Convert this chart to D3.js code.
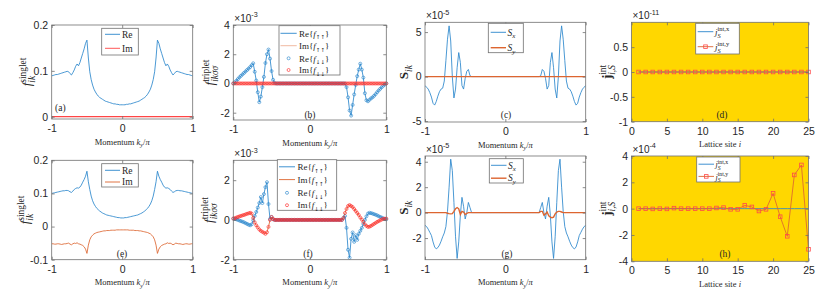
<!DOCTYPE html>
<html>
<head>
<meta charset="utf-8">
<script src="https://cdn.jsdelivr.net/npm/d3@7"></script>
<style>
  body { margin: 0; background: #fff; }
  svg { display: block; }
</style>
</head>
<body>
<svg id="fig" width="830" height="294"></svg>
<script>
// momentum grid k_y/pi and lattice sites
const kGrid = d3.range(101).map(i => Math.round((-1 + i * 0.02) * 100) / 100);
const sites = d3.range(1, 26);
const Z = n => Array(n).fill(0);

// (a) singlet, first case
const singletReA = [0.089,0.090,0.091,0.092,0.092,0.093,0.094,0.095,0.096,0.097,
  0.098,0.099,0.098,0.094,0.091,0.096,0.102,0.110,0.115,0.111,
  0.118,0.128,0.138,0.148,0.160,0.167,0.128,0.098,0.081,0.069,
  0.060,0.054,0.049,0.045,0.042,0.040,0.038,0.036,0.034,0.033,
  0.032,0.031,0.030,0.029,0.028,0.028,0.027,0.027,0.026,0.026,0.026,
  0.026,0.026,0.027,0.027,0.028,0.028,0.029,0.030,0.031,0.032,
  0.033,0.034,0.036,0.038,0.040,0.042,0.045,0.049,0.054,0.060,
  0.069,0.081,0.098,0.128,0.167,0.160,0.148,0.138,0.128,0.118,
  0.111,0.115,0.110,0.102,0.096,0.091,0.094,0.098,0.099,0.098,
  0.097,0.096,0.095,0.094,0.093,0.092,0.092,0.091,0.090,0.089];
const singletImA = Z(101);

// (e) singlet, second case
const singletReE = [0.100,0.101,0.102,0.103,0.104,0.105,0.106,0.107,0.108,0.108,
  0.109,0.109,0.108,0.105,0.103,0.107,0.112,0.115,0.117,0.116,
  0.119,0.125,0.134,0.142,0.152,0.167,0.135,0.112,0.092,0.078,
  0.068,0.061,0.055,0.051,0.047,0.044,0.041,0.039,0.037,0.035,
  0.034,0.033,0.032,0.031,0.030,0.029,0.028,0.027,0.027,0.026,0.026,
  0.026,0.027,0.027,0.028,0.029,0.030,0.031,0.032,0.033,0.034,
  0.035,0.037,0.039,0.041,0.044,0.047,0.051,0.055,0.061,0.068,
  0.078,0.092,0.112,0.135,0.167,0.152,0.142,0.134,0.125,0.119,
  0.116,0.117,0.115,0.112,0.107,0.103,0.105,0.108,0.109,0.109,
  0.108,0.108,0.107,0.106,0.105,0.104,0.103,0.102,0.101,0.100];
const singletImE = [-0.052,-0.052,-0.053,-0.053,-0.052,-0.052,-0.053,-0.054,-0.053,-0.052,
  -0.052,-0.051,-0.050,-0.053,-0.055,-0.052,-0.050,-0.051,-0.049,-0.052,
  -0.053,-0.055,-0.057,-0.061,-0.068,-0.081,-0.056,-0.040,-0.031,-0.026,
  -0.022,-0.020,-0.018,-0.017,-0.016,-0.015,-0.014,-0.013,-0.013,-0.012,
  -0.012,-0.012,-0.011,-0.011,-0.011,-0.011,-0.010,-0.010,-0.010,-0.010,-0.010,
  -0.010,-0.010,-0.010,-0.010,-0.011,-0.011,-0.011,-0.011,-0.012,-0.012,
  -0.012,-0.013,-0.013,-0.014,-0.015,-0.016,-0.017,-0.018,-0.020,-0.022,
  -0.026,-0.031,-0.040,-0.056,-0.081,-0.068,-0.061,-0.057,-0.055,-0.053,
  -0.052,-0.049,-0.051,-0.050,-0.052,-0.055,-0.053,-0.050,-0.051,-0.052,
  -0.052,-0.053,-0.054,-0.053,-0.052,-0.052,-0.053,-0.053,-0.052,-0.052];

// (b) triplet, first case (x 1e-3)
const tripletReB = [0.00,0.08,0.18,0.30,0.42,0.52,0.62,0.72,0.82,0.92,
  1.02,1.12,1.25,1.38,0.80,0.20,-0.60,-1.28,-0.90,-0.25,
  0.45,1.40,2.00,2.32,1.70,0.85,0.25,0.03,0,0,
  ...Z(40),
  0,0,0,0,-0.25,-0.95,-1.85,-2.20,-1.47,-0.75,
  -0.10,0.50,0.95,1.35,0.95,0.40,-0.67,-1.15,-1.22,-1.12,
  -1.02,-0.95,-0.85,-0.73,-0.60,-0.48,-0.37,-0.26,-0.16,-0.07,0.00];
const tripletImB = Z(101);

// (f) triplet, second case (x 1e-3)
const tripletReF = [0.07,0.05,0.03,0.00,-0.03,-0.06,-0.09,-0.12,-0.16,-0.20,
  -0.24,-0.27,-0.22,-0.02,0.20,0.40,0.62,0.85,1.15,0.85,
  1.30,1.65,1.90,0.80,0.05,0.15,0.03,0,0,0,
  ...Z(40),
  0,0,0.10,0.20,-0.40,-1.50,-1.90,-0.95,-0.63,-1.10,
  -0.77,-1.00,-0.70,-0.55,-0.40,-0.20,0.00,0.18,0.32,0.36,
  0.34,0.32,0.29,0.26,0.23,0.19,0.15,0.12,0.08,0.05,0.03];
const tripletImF = [0.07,0.09,0.12,0.15,0.18,0.20,0.23,0.25,0.28,0.31,
  0.33,0.36,0.32,0.10,-0.12,-0.27,-0.38,-0.48,-0.55,-0.60,
  -0.64,-0.70,-0.62,-0.35,0.00,0.15,0.05,0,0,0,
  ...Z(40),
  0,0,0.10,0.35,0.55,0.70,0.75,0.70,0.65,0.55,
  0.45,0.35,0.25,0.12,0.02,-0.10,-0.22,-0.30,-0.35,-0.34,
  -0.30,-0.25,-0.20,-0.15,-0.10,-0.06,-0.02,0.02,0.05,0.06,0.07];

// (c) spin, first case (x 1e-5)
const spinXC = [-1.0,-1.2,-1.4,-1.8,-2.3,-3.0,-3.2,-2.8,-2.2,-1.7,
  -1.4,-1.3,-0.5,1.8,4.2,5.7,4.0,0.0,-2.4,-1.4,
  1.0,2.7,1.6,-1.0,-1.4,-0.2,0.6,0.8,0.1,0.0,
  ...Z(41),
  0.0,0.1,0.8,0.6,-0.2,-1.4,-1.0,1.6,2.7,1.0,
  -1.4,-2.4,0.0,4.0,5.7,4.2,1.8,-0.5,-1.3,-1.4,
  -1.7,-2.2,-2.8,-3.2,-3.0,-2.3,-1.8,-1.4,-1.2,-1.0];
const spinYC = Z(101);

// (g) spin, second case (x 1e-5)
const spinXG = [-1.0,-1.1,-1.3,-1.55,-1.8,-2.3,-2.7,-2.85,-2.75,-2.55,
  -2.25,-1.9,-1.6,-1.1,0.1,2.0,4.2,3.3,0.8,-1.9,
  -3.6,-2.3,-0.2,1.2,0.5,-0.5,0.0,0.8,0.4,0.0,
  ...Z(41),
  0.0,0.4,0.8,0.0,-0.5,0.5,1.2,-0.2,-2.3,-3.6,
  -1.9,0.8,3.3,4.2,2.0,0.1,-1.1,-1.6,-1.9,-2.25,
  -2.55,-2.75,-2.85,-2.7,-2.3,-1.8,-1.55,-1.3,-1.1,-1.0];
const spinYG = [...Z(10),
  0,0,0,0,-0.05,-0.08,-0.10,-0.08,0.10,0.30,
  0.40,0.30,-0.15,0.10,0.05,-0.15,-0.05,0,0,0,
  ...Z(40),
  0,0,0.10,0.10,-0.20,-0.10,0.05,-0.25,-0.35,-0.40,
  -0.35,-0.10,0.05,0.10,0.10,0.05,0,0,0,0,
  ...Z(11)];

// (d),(h) interface spin currents
const currentXD = Z(25);
const currentYD = Z(25);            // x 1e-11
const currentXH = Z(25);
const currentYH = [0,0,-0.02,0,-0.02,0.04,0,0,0,0,0,0.05,0.08,-0.05,-0.05,
  0.25,0.13,-0.18,-0.05,1.16,-0.61,-2.10,2.56,3.32,-3.09];   // x 1e-4

const SANS = "'Liberation Sans', Arial, sans-serif";
const SERIF = "'Liberation Serif', 'DejaVu Serif', serif";
const ARROWS = "'DejaVu Sans', sans-serif";
const BLUE = '#2a86cc', ORANGE = '#DD6530', RED = '#FF2828', SQ = '#FF4A4A', INK = '#262626', AX = '#707070';

const svg = d3.select('#fig');

// text with sub/superscripts, measured piece by piece
function rich(parent, segs, fs, fam) {
  const g = parent.append('g');
  let cx = 0, stackX = 0;
  segs.forEach(s => {
    const small = s.v === 'sup' || s.v === 'sub';
    const size = fs * (small ? 0.72 : 1) * (s.scale || 1);
    const dy = s.v === 'sup' ? -0.42 * fs : s.v === 'sub' ? 0.3 * fs : 0;
    const sx = s.stack ? stackX : cx;
    const t = g.append('text')
      .attr('x', sx).attr('y', dy)
      .attr('fill', INK)
      .style('font-family', s.fam || fam)
      .style('font-size', size + 'px')
      .style('font-style', s.i ? 'italic' : 'normal')
      .style('font-weight', s.b ? 'bold' : 'normal')
      .style('white-space', 'pre')
      .text(s.t);
    const w = t.node().getComputedTextLength();
    if (s.stack) cx = Math.max(cx, sx + w);
    else { stackX = cx; cx += w; }
  });
  g.node().__w = cx;
  return g;
}
function place(g, x, y, anchor, rot) {
  const w = g.node().__w;
  const off = anchor === 'middle' ? -w / 2 : anchor === 'end' ? -w : 0;
  g.attr('transform', rot ? `translate(${x},${y}) rotate(-90) translate(${off},0)` : `translate(${x + off},${y})`);
}

function marker(g, type, cx, cy, color) {
  if (type === 'circle')
    g.append('circle').attr('cx', cx).attr('cy', cy).attr('r', 1.5)
      .attr('fill', 'none').attr('stroke', color).attr('stroke-width', 0.65);
  else
    g.append('rect').attr('x', cx - 1.8).attr('y', cy - 1.8).attr('width', 3.6).attr('height', 3.6)
      .attr('fill', 'none').attr('stroke', color).attr('stroke-width', 0.8);
}

const xLabelK = [{t: 'Momentum '}, {t: 'k', i: true}, {t: 'y', v: 'sub', i: true}, {t: '/'}, {t: 'π', i: true}];
const xLabelSite = [{t: 'Lattice site '}, {t: 'i', i: true}];
const ySinglet = [{t: 'f', i: true}, {t: 'singlet', v: 'sup'}, {t: 'ik', v: 'sub', i: true, stack: true}];
const yTriplet = [{t: 'f', i: true}, {t: 'triplet', v: 'sup'}, {t: 'ikσσ', v: 'sub', i: true, stack: true}];
const ySpin = [{t: 'S', b: true}, {t: 'ik', v: 'sub', i: true}];
const yCurrent = [{t: 'j', b: true}, {t: 'int', v: 'sup'}, {t: 'i,S', v: 'sub', i: true, stack: true}];
const fLab = (p, arr) => [{t: p + '{'}, {t: 'f', i: true}, {t: arr, v: 'sub', fam: ARROWS, scale: 0.85}, {t: '}'}];
const jLab = c => [{t: 'j', i: true}, {t: 'int,' + c, v: 'sup'}, {t: 'S', v: 'sub', i: true, stack: true}];

function panel(p) {
  const g = svg.append('g');
  const x = d3.scaleLinear().domain(p.xDomain).range([p.L, p.R]);
  const y = d3.scaleLinear().domain(p.yDomain).range([p.B, p.T]);
  if (p.bg) g.append('rect').attr('x', p.L).attr('y', p.T).attr('width', p.R - p.L).attr('height', p.B - p.T).attr('fill', p.bg);
  const cid = 'clip-' + p.id;
  g.append('clipPath').attr('id', cid).append('rect')
    .attr('x', p.L).attr('y', p.T).attr('width', p.R - p.L).attr('height', p.B - p.T);
  const plot = g.append('g').attr('clip-path', `url(#${cid})`);
  const free = g.append('g');
  p.series.forEach(s => {
    const pts = s.x.map((xv, i) => [xv, s.y[i]]);
    if (s.line) plot.append('path').datum(pts)
      .attr('d', d3.line().x(d => x(d[0])).y(d => y(d[1])))
      .attr('fill', 'none').attr('stroke', s.line).attr('stroke-width', s.lw || 0.85)
      .attr('stroke-opacity', s.op || 1);
    if (s.marker) pts.forEach(d => marker(free, s.marker, x(d[0]), y(d[1]), s.mcolor));
  });

  const T = 3, fmt = d => String(d);
  const axis = (gen, tx, ty, labels) => {
    const a = g.append('g').attr('transform', `translate(${tx},${ty})`).call(gen);
    a.select('.domain').remove();
    a.selectAll('line').attr('stroke', AX).attr('stroke-width', 0.8);
    if (!labels) a.selectAll('text').remove();
    else a.selectAll('text').attr('fill', INK).style('font-family', SANS).style('font-size', '10.5px');
  };
  axis(d3.axisBottom(x).tickValues(p.xTicks).tickSize(-T).tickPadding(5.5).tickFormat(fmt), 0, p.B, true);
  axis(d3.axisTop(x).tickValues(p.xTicks).tickSize(-T), 0, p.T, false);
  axis(d3.axisLeft(y).tickValues(p.yTicks).tickSize(-T).tickPadding(3.5).tickFormat(fmt), p.L, 0, true);
  axis(d3.axisRight(y).tickValues(p.yTicks).tickSize(-T), p.R, 0, false);
  g.append('rect').attr('x', p.L).attr('y', p.T).attr('width', p.R - p.L).attr('height', p.B - p.T)
    .attr('fill', 'none').attr('stroke', AX).attr('stroke-width', 0.8);

  if (p.exp) place(rich(g, [{t: '×10'}, {t: p.exp, v: 'sup'}], 10, SANS), p.L + 1, p.T - 3.5, 'start');
  place(rich(g, p.xLabel, 8.5, SERIF), (p.L + p.R) / 2, p.B + 25.5, 'middle');
  place(rich(g, p.yLabel, 13, SERIF), p.yLabX, (p.T + p.B) / 2, 'middle', true);
  place(rich(g, [{t: '(' + p.id + ')'}], 9.5, SERIF), p.tag[0], p.tag[1], p.tag[2]);

  const lg = p.legend;
  g.append('rect').attr('x', lg.box[0]).attr('y', lg.box[1])
    .attr('width', lg.box[2] - lg.box[0]).attr('height', lg.box[3] - lg.box[1])
    .attr('fill', '#fff').attr('stroke', AX).attr('stroke-width', 0.8);
  lg.items.forEach((it, i) => {
    const cy = lg.rows[i];
    if (it.line) g.append('line').attr('x1', lg.sx[0]).attr('x2', lg.sx[1]).attr('y1', cy).attr('y2', cy)
      .attr('stroke', it.line).attr('stroke-width', it.lw || 0.9).attr('stroke-opacity', it.op || 1);
    if (it.marker) marker(g, it.marker, (lg.sx[0] + lg.sx[1]) / 2, cy, it.mcolor);
    place(rich(g, it.label, lg.fs || 9.5, SERIF), lg.tx, cy + 3.2, 'start');
  });
}

panel({id: 'a', L: 51.7, R: 192.7, T: 25, B: 119, xDomain: [-1, 1], yDomain: [-0.005, 0.2],
  xTicks: [-1, 0, 1], yTicks: [0, 0.1, 0.2], xLabel: xLabelK, yLabel: ySinglet, yLabX: 31,
  tag: [55, 111, 'start'],
  series: [{x: kGrid, y: singletReA, line: BLUE}, {x: kGrid, y: singletImA, line: '#FF4545', lw: 1.2}],
  legend: {box: [101.7, 28.3, 138.3, 55], sx: [105, 120], tx: 122, rows: [34.3, 48.3],
    items: [{line: BLUE, label: [{t: 'Re'}]}, {line: '#FF4545', label: [{t: 'Im'}]}]}});

panel({id: 'b', L: 233.3, R: 386.3, T: 25, B: 120, xDomain: [-1, 1], yDomain: [-2.5, 4],
  xTicks: [-1, 0, 1], yTicks: [-2, 0, 2, 4], xLabel: xLabelK, yLabel: yTriplet, yLabX: 214, exp: '-3',
  tag: [310, 117.5, 'middle'],
  series: [{x: kGrid, y: tripletReB, line: BLUE}, {x: kGrid, y: tripletImB, line: ORANGE, op: 0.5},
    {x: kGrid, y: tripletReB, marker: 'circle', mcolor: BLUE}, {x: kGrid, y: tripletImB, marker: 'circle', mcolor: RED}],
  legend: {box: [279, 25.7, 340, 75], sx: [280.5, 296.7], tx: 299, rows: [33.3, 45.7, 58.3, 70], fs: 9,
    items: [{line: BLUE, label: fLab('Re', '↑↑')}, {line: ORANGE, op: 0.5, label: fLab('Im', '↑↑')},
      {marker: 'circle', mcolor: BLUE, label: fLab('Re', '↓↓')}, {marker: 'circle', mcolor: RED, label: fLab('Im', '↓↓')}]}});

panel({id: 'c', L: 425, R: 585.7, T: 22.3, B: 122, xDomain: [-1, 1], yDomain: [-5.1, 6.1],
  xTicks: [-1, 0, 1], yTicks: [-5, 0, 5], xLabel: xLabelK, yLabel: ySpin, yLabX: 408, exp: '-5',
  tag: [506, 117.5, 'middle'],
  series: [{x: kGrid, y: spinXC, line: BLUE}, {x: kGrid, y: spinYC, line: ORANGE, lw: 1.4}],
  legend: {box: [488.3, 23.3, 523.3, 52.7], sx: [490.7, 506], tx: 507.5, rows: [32.3, 47.7],
    items: [{line: BLUE, label: [{t: 'S', i: true}, {t: 'x', v: 'sub', i: true}]},
      {line: ORANGE, lw: 1.4, label: [{t: 'S', i: true}, {t: 'y', v: 'sub', i: true}]}]}});

panel({id: 'd', L: 631.5, R: 808.5, T: 22.3, B: 121.7, xDomain: [0, 25], yDomain: [-1, 1],
  xTicks: [0, 5, 10, 15, 20, 25], yTicks: [-1, -0.5, 0, 0.5], xLabel: xLabelSite, yLabel: yCurrent, yLabX: 611,
  exp: '-11', bg: '#FFD700', tag: [722, 117.5, 'middle'],
  series: [{x: sites, y: currentXD, line: BLUE}, {x: sites, y: currentYD, line: ORANGE, marker: 'square', mcolor: SQ}],
  legend: {box: [695.7, 23.3, 739.3, 54], sx: [697.7, 713.3], tx: 715, rows: [31.7, 46.7], fs: 9,
    items: [{line: BLUE, label: jLab('x')}, {line: ORANGE, marker: 'square', mcolor: SQ, label: jLab('y')}]}});

panel({id: 'e', L: 51.7, R: 192.7, T: 160.3, B: 259.7, xDomain: [-1, 1], yDomain: [-0.1, 0.2],
  xTicks: [-1, 0, 1], yTicks: [-0.1, 0, 0.1, 0.2], xLabel: xLabelK, yLabel: ySinglet, yLabX: 29,
  tag: [122, 257, 'middle'],
  series: [{x: kGrid, y: singletReE, line: BLUE}, {x: kGrid, y: singletImE, line: ORANGE}],
  legend: {box: [101.7, 163.7, 138.3, 187], sx: [105, 120], tx: 122, rows: [170.3, 182],
    items: [{line: BLUE, label: [{t: 'Re'}]}, {line: ORANGE, label: [{t: 'Im'}]}]}});

panel({id: 'f', L: 233.3, R: 386.3, T: 160.3, B: 259.7, xDomain: [-1, 1], yDomain: [-2, 3],
  xTicks: [-1, 0, 1], yTicks: [-2, 0, 2], xLabel: xLabelK, yLabel: yTriplet, yLabX: 213, exp: '-3',
  tag: [308, 257, 'middle'],
  series: [{x: kGrid, y: tripletReF, line: BLUE}, {x: kGrid, y: tripletImF, line: ORANGE},
    {x: kGrid, y: tripletReF, marker: 'circle', mcolor: BLUE}, {x: kGrid, y: tripletImF, marker: 'circle', mcolor: RED}],
  legend: {box: [277.3, 159.7, 336.7, 210.3], sx: [279, 295], tx: 297.5, rows: [166.8, 179.6, 192.8, 205.2], fs: 9,
    items: [{line: BLUE, label: fLab('Re', '↑↑')}, {line: ORANGE, label: fLab('Im', '↑↑')},
      {marker: 'circle', mcolor: BLUE, label: fLab('Re', '↓↓')}, {marker: 'circle', mcolor: RED, label: fLab('Im', '↓↓')}]}});

panel({id: 'g', L: 425, R: 585.7, T: 156, B: 259.7, xDomain: [-1, 1], yDomain: [-3.7, 4.45],
  xTicks: [-1, 0, 1], yTicks: [-2, 0, 2, 4], xLabel: xLabelK, yLabel: ySpin, yLabX: 408, exp: '-5',
  tag: [507, 257, 'middle'],
  series: [{x: kGrid, y: spinXG, line: BLUE}, {x: kGrid, y: spinYG, line: ORANGE, lw: 1.4}],
  legend: {box: [489.3, 158.7, 523.3, 183], sx: [491, 506.5], tx: 508, rows: [165.3, 178.2],
    items: [{line: BLUE, label: [{t: 'S', i: true}, {t: 'x', v: 'sub', i: true}]},
      {line: ORANGE, lw: 1.4, label: [{t: 'S', i: true}, {t: 'y', v: 'sub', i: true}]}]}});

panel({id: 'h', L: 631.5, R: 808.5, T: 156, B: 261.3, xDomain: [0, 25], yDomain: [-4, 4],
  xTicks: [0, 5, 10, 15, 20, 25], yTicks: [-4, -2, 0, 2, 4], xLabel: xLabelSite, yLabel: yCurrent, yLabX: 611,
  exp: '-4', bg: '#FFD700', tag: [725, 257, 'middle'],
  series: [{x: sites, y: currentXH, line: BLUE}, {x: sites, y: currentYH, line: ORANGE, marker: 'square', mcolor: SQ}],
  legend: {box: [696.7, 157, 740, 182], sx: [698.5, 714], tx: 715.5, rows: [164.2, 176.4], fs: 8,
    items: [{line: BLUE, label: jLab('x')}, {line: ORANGE, marker: 'square', mcolor: SQ, label: jLab('y')}]}});
</script>
</body>
</html>
